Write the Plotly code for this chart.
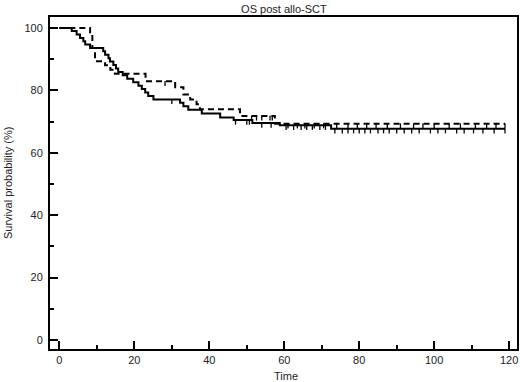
import numpy as np
import plotly.graph_objects as go

# Solid curve (group 1): event times and survival (%)
solid_times = [0, 3.3, 4.6, 5.5, 6.4, 6.9, 8.2, 11.7, 12.2, 13.1, 13.5, 14.4, 15.1, 15.7,
               16.9, 18.1, 19.7, 21.1, 22.0, 22.9, 23.7, 25.1, 32.2, 33.1, 34.4, 38.0,
               42.9, 46.5, 51.5, 58.8, 72.5]
solid_surv = [100, 99.0, 97.9, 96.8, 95.7, 94.7, 93.6, 92.5, 91.4, 90.3, 89.2, 88.1, 87.0, 85.9,
              84.8, 83.7, 82.6, 81.5, 80.4, 79.3, 78.2, 77.1, 76.0, 74.9, 73.8, 72.6,
              71.3, 70.5, 69.5, 68.8, 67.7]
solid_censored = [30.0, 47.0, 50.0, 50.7, 54.0, 56.5, 60.5, 62.5, 64.5, 66.0, 67.5, 69.5, 71.0,
                  73.5, 75.5, 77.0, 78.5, 80.0, 81.5, 83.0, 85.0, 86.5, 88.0, 90.0, 92.0,
                  94.0, 96.0, 99.0, 101.0, 103.0, 106.0, 108.0, 110.5, 113.0, 116.0, 118.9]

# Dashed curve (group 2)
dashed_times = [0, 8.2, 8.8, 9.5, 12.2, 13.6, 14.8, 23.0, 30.9, 33.1, 34.9, 36.6, 37.5, 48.2, 57.5]
dashed_surv = [100, 97.8, 93.6, 89.3, 88.0, 86.6, 85.3, 82.9, 81.0, 78.7, 77.1, 75.5, 73.9, 71.8, 69.3]
dashed_censored = [28.2, 51.3, 52.6, 54.0, 56.2, 56.8, 61.0, 63.5, 65.5, 68.0, 70.5, 74.0, 77.0,
                   79.5, 82.0, 84.5, 87.5, 91.0, 94.5, 97.0, 100.0, 104.0, 107.0, 111.0, 114.0,
                   116.5, 118.9]

END_TIME = 118.9

x_ticks = [0, 20, 40, 60, 80, 100, 120]
y_ticks = [0, 20, 40, 60, 80, 100]


def surv_at(times, surv, t):
    idx = np.searchsorted(np.array(times), np.array(t), side="right") - 1
    return [surv[i] for i in idx]


fig = go.Figure()

for times, surv, cens, dash in [
    (solid_times, solid_surv, solid_censored, "solid"),
    (dashed_times, dashed_surv, dashed_censored, "6px,4px"),
]:
    fig.add_trace(go.Scatter(
        x=list(times) + [END_TIME], y=list(surv) + [surv[-1]],
        mode="lines", line=dict(color="black", width=2, dash=dash, shape="hv"),
        showlegend=False, hoverinfo="skip"))
    cy = surv_at(times, surv, cens)
    fig.add_trace(go.Scatter(
        x=cens, y=cy, mode="markers",
        marker=dict(size=1, color="black"),
        error_y=dict(type="data", symmetric=False, array=[0] * len(cens),
                     arrayminus=[1.5] * len(cens), width=0, thickness=1.3, color="black"),
        showlegend=False, hoverinfo="skip"))

FAM = "Liberation Sans, Arial, sans-serif"
font = dict(family=FAM, size=11, color="#222")

fig.update_layout(
    width=520, height=382,
    margin=dict(l=50, r=3, t=17, b=33),
    paper_bgcolor="white", plot_bgcolor="white",
    font=font,
    title=dict(text="OS post allo-SCT", x=0.546, xanchor="center", xref="container",
               y=1 - 9 / 382, yanchor="middle", yref="container",
               font=dict(size=11, color="#222", family=FAM)),
    annotations=[
        dict(text="Time", xref="paper", yref="paper", x=(286 - 50) / 467, y=(349 - 376) / 332,
             xanchor="center", yanchor="middle", showarrow=False, font=dict(size=11, color="#222")),
        dict(text="Survival probability (%)", xref="paper", yref="paper",
             x=(8 - 50) / 467, y=(349 - 183) / 332, textangle=-90,
             xanchor="center", yanchor="middle", showarrow=False, font=dict(size=11, color="#222")),
    ],
)
fig.update_xaxes(
    range=[-2.5, 122.1], tickvals=x_ticks, ticktext=[str(v) for v in x_ticks],
    ticks="inside", ticklen=8, tickwidth=2, tickcolor="black",
    minor=dict(dtick=10, tick0=0, ticks="inside", ticklen=4, tickwidth=1.5, tickcolor="black"),
    showline=True, linewidth=2, linecolor="black", mirror=True,
    showgrid=False, zeroline=False, automargin=False,
    ticklabelstandoff=0,
)
fig.update_yaxes(
    range=[-2.9, 103.5], tickvals=y_ticks, ticktext=[str(v) for v in y_ticks],
    ticks="inside", ticklen=8, tickwidth=2, tickcolor="black",
    minor=dict(dtick=10, tick0=0, ticks="inside", ticklen=4, tickwidth=1.5, tickcolor="black"),
    showline=True, linewidth=2, linecolor="black", mirror=True,
    showgrid=False, zeroline=False, automargin=False,
    ticklabelstandoff=3,
)

fig.write_html(
    "out.html",
    config={"displayModeBar": False},
    post_script="document.body.style.margin='0';document.body.style.padding='0';",
)
